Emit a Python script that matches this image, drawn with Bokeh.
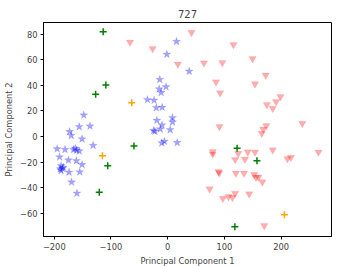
from bokeh.plotting import figure
from bokeh.models import Range1d, FixedTicker, CustomJSTickFormatter
from bokeh.embed import file_html
from bokeh.resources import INLINE

# Blue stars (cluster 0)
blue_x = [15.6, -1.5, 38, -13.9, -2.8, -15, -11.4, -35.7, -24, -20, -9.7, 8.5, 8.5, -19, -10,
          -24.8, -22.5, -13, 4.4, -5.7, -10.4, 16.8,
          -148, -156, -137, -173, -170, -151, -131.5, -195, -181, -166, -163, -160.5, -156,
          -190.6, -175, -161, -151, -188, -184, -189.5, -185.5, -188, -174, -155, -169.5, -160]
blue_y = [74.3, 64.3, 51, 44.6, 38.8, 37.2, 34.3, 28.8, 28.4, 22.5, 22.8, 14.6, 11.3, 12.6, 8.9,
          4.6, 4.1, 5.8, 5.3, -3.8, -5.1, -4.8,
          16.7, 7.6, 8.1, 3.8, 0.8, -2, -7, -9.7, -10.2, -10.2, -9.3, -10.8, -11.3,
          -16, -18.5, -19, -22, -23, -24, -25.4, -25, -26.6, -28, -27.7, -35.7, -44.4]

# Red inverted triangles (cluster 1)
red_x = [42, -66.4, -26.5, 116, 18, 64, 96.5, 149.7, 173, 85.3, 154, 92.5, 199, 191.3, 175, 185.4,
         237.5, 174, 91.3, 168.5, 166, 79.5, 79.5, 124.5, 141.3, 154, 185.4, 266, 119, 136.4,
         211.2, 217.4, 89.8, 91, 120.3, 134.7, 152.5, 155.8, 160, 167, 74, 97.5, 107.3, 114.2,
         119, 143.8, 170.5]
red_y = [81.5, 73.8, 68.8, 71.8, 56.6, 57.5, 57.7, 61, 48, 42.7, 41.2, 34.2, 31.2, 27.2, 25, 22,
         10.3, 8.5, 7.8, 5.8, 2.5, -11.8, -13.7, -13.3, -12, -12.2, -10.5, -12.2, -18, -17.8,
         -17.4, -16.4, -27.4, -28.4, -28.6, -28.6, -29.6, -32, -31.8, -35.5, -41, -48.5, -47,
         -47.7, -44.5, -44.9, -69.7]

# Green plus (cluster 2)
green_x = [-113.7, -109, -127, -59.4, -105.7, -120.6, 122.5, 157.5, 118.5]
green_y = [82, 40.3, 33, -7.4, -22.8, -43.5, -9.2, -19, -70.5]

# Orange plus (cluster 3)
orange_x = [-63.4, -115, 206]
orange_y = [26.5, -15, -61.2]

x_ticks = [-200, -100, 0, 100, 200]
y_ticks = [-60, -40, -20, 0, 20, 40, 60, 80]

FONT = "DejaVu Sans"

p = figure(width=351, height=268, output_backend="svg", toolbar_location=None,
           x_range=Range1d(-219, 289), y_range=Range1d(-78.2, 89.2),
           min_border_left=35, min_border_right=20, min_border_bottom=29, min_border_top=22)

p.title.text = "727"
p.title.align = "center"
p.title.vertical_align = "middle"
p.title.text_font = FONT
p.title.text_font_size = "10px"
p.title.text_font_style = "normal"
p.title.standoff = 7
p.title.offset = 0

p.outline_line_color = "black"
p.outline_line_width = 1
p.xgrid.visible = False
p.ygrid.visible = False
p.background_fill_color = "white"
p.border_fill_color = "white"

fmt = CustomJSTickFormatter(code="return String(tick).replace('-', '\u2212');")
for ax, ticks, lab in ((p.xaxis[0], x_ticks, "Principal Component 1"),
                       (p.yaxis[0], y_ticks, "Principal Component 2")):
    ax.ticker = FixedTicker(ticks=ticks)
    ax.formatter = fmt
    ax.axis_label = lab
    ax.axis_label_text_font = FONT
    ax.axis_label_text_font_size = "8.3px"
    ax.axis_label_text_font_style = "normal"
    ax.axis_label_standoff = 3
    ax.major_label_text_font = FONT
    ax.major_label_text_font_size = "8.3px"
    ax.major_label_standoff = 3
    ax.major_tick_out = 3
    ax.major_tick_in = 0
    ax.minor_tick_out = 0
    ax.minor_tick_in = 0
    ax.axis_line_color = "black"
    ax.major_tick_line_color = "black"

p.scatter(blue_x, blue_y, marker="star", size=8.5, fill_color="blue", line_color="blue",
          fill_alpha=0.36, line_alpha=0.2, line_width=0.5)
p.scatter(red_x, red_y, marker="inverted_triangle", size=7.5, fill_color="red", line_color="red",
          fill_alpha=0.32, line_alpha=0.15, line_width=0.5)
p.scatter(green_x, green_y, marker="cross", size=7, line_color="green", line_width=1.5)
p.scatter(orange_x, orange_y, marker="cross", size=7, line_color="orange", line_width=1.5)

open("out.html", "w").write(file_html(p, INLINE))
